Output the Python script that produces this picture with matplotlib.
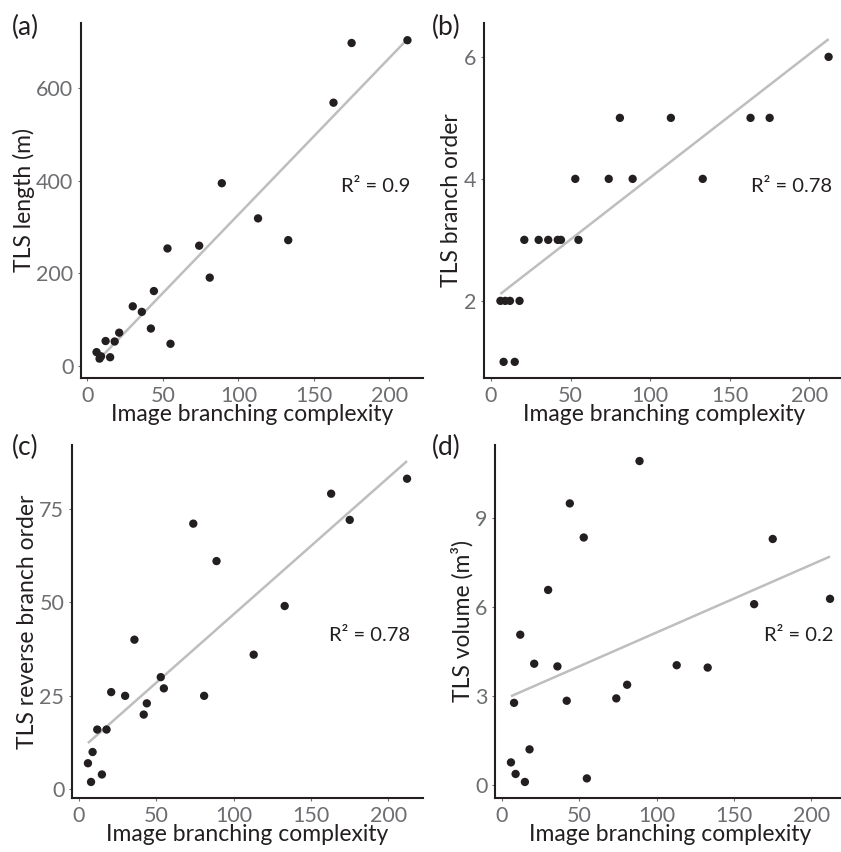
"""Four-panel scatter: TLS metrics against image branching complexity."""

import matplotlib

matplotlib.use("Agg")
import matplotlib.pyplot as plt
import numpy as np

plt.rcParams["font.family"] = ["Lato", "DejaVu Sans"]

complexity = [6, 8, 9, 12, 15, 18, 21, 30, 36, 42, 44, 53, 55, 74, 81, 89, 113, 133, 163, 175, 212]

tls_length = [30, 16, 21, 54, 19, 53, 72, 129, 117, 81, 162, 254, 48, 260, 191, 395, 319, 272, 569, 698, 704]
branch_order = [2, 1, 2, 2, 1, 2, 3, 3, 3, 3, 3, 4, 3, 4, 5, 4, 5, 4, 5, 5, 6]
reverse_order = [7, 2, 10, 16, 4, 16, 26, 25, 40, 20, 23, 30, 27, 71, 25, 61, 36, 49, 79, 72, 83]
tls_volume = [0.76, 2.77, 0.37, 5.07, 0.1, 1.2, 4.09, 6.58, 4.0, 2.84, 9.5, 8.35, 0.22,
              2.92, 3.38, 10.93, 4.04, 3.96, 6.1, 8.3, 6.28]

panel_tags = ["(a)", "(b)", "(c)", "(d)"]
y_titles = ["TLS length (m)", "TLS branch order", "TLS reverse branch order", "TLS volume (m³)"]
r2_labels = ["R² = 0.9", "R² = 0.78", "R² = 0.78", "R² = 0.2"]
y_ticks = [[0, 200, 400, 600], [2, 4, 6], [0, 25, 50, 75], [0, 3, 6, 9]]
x_ticks = [0, 50, 100, 150, 200]

W, H = 841, 852
# left, right, top, bottom in pixels
boxes = [(81, 423, 23, 378), (484, 845, 23, 378), (72, 423, 445, 798), (495, 846, 445, 798)]
r2_frac = [0.54, 0.54, 0.46, 0.46]

DOT = "#231f20"
TICK_GREY = "#6d6e71"


def expand(lo, hi, frac=0.05):
    pad = (hi - lo) * frac
    return lo - pad, hi + pad


fig = plt.figure(figsize=(W / 100, H / 100), dpi=100)
series = [tls_length, branch_order, reverse_order, tls_volume]
x = np.asarray(complexity, dtype=float)

for i, ys in enumerate(series):
    l, r, t, b = boxes[i]
    ax = fig.add_axes([l / W, 1 - b / H, (r - l) / W, (b - t) / H])
    y = np.asarray(ys, dtype=float)
    slope, icpt = np.polyfit(x, y, 1)
    xl = np.array([x.min(), x.max()])
    yl = slope * xl + icpt
    ax.plot(xl, yl, color="#bebebe", lw=1.8, zorder=2, solid_capstyle="butt")
    ax.scatter(x, y, s=36, color=DOT, edgecolors="none", zorder=3)

    ax.set_xlim(*expand(x.min(), x.max()))
    lo = min(y.min(), yl.min())
    hi = max(y.max(), yl.max())
    ylo, yhi = expand(lo, hi)
    ax.set_ylim(ylo, yhi)
    ax.set_xticks(x_ticks)
    ax.set_yticks(y_ticks[i])

    for side in ("top", "right"):
        ax.spines[side].set_visible(False)
    for side in ("left", "bottom"):
        ax.spines[side].set_color(DOT)
        ax.spines[side].set_linewidth(1.5)
    ax.tick_params(length=2.5, width=0.8, color=TICK_GREY, labelcolor=TICK_GREY,
                   labelsize=15.5, pad=3)

    ax.set_xlabel("Image branching complexity", fontsize=16.5, color=DOT, labelpad=-1)
    ax.set_ylabel(y_titles[i], fontsize=16.5, color=DOT, labelpad=1)

    ax.text(214, ylo + r2_frac[i] * (yhi - ylo), r2_labels[i], ha="right", va="center",
            fontsize=14.5, color=DOT)
    fig.text((12 if i % 2 == 0 else 432) / W, 1 - (27 if i < 2 else 447) / H, panel_tags[i],
             fontsize=19, color=DOT, ha="left", va="center")

fig.savefig("out.png", dpi=100)
plt.close(fig)
